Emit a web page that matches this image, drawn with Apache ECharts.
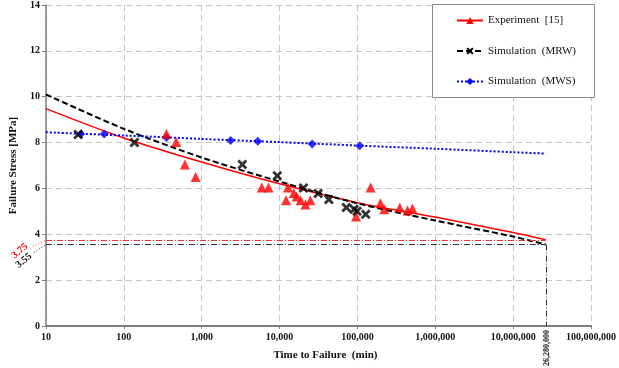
<!DOCTYPE html>
<html><head><meta charset="utf-8">
<script src="https://cdn.jsdelivr.net/npm/echarts@6/dist/echarts.min.js"></script>
<style>html,body{margin:0;padding:0;background:#fff}#c{width:619px;height:368px}</style>
</head><body><div id="c"></div>
<script>
// ---- data ----
const xTicks = [10, 100, 1000, 10000, 100000, 1000000, 10000000, 100000000];
const yTicks = [0, 2, 4, 6, 8, 10, 12, 14];
const legendNames = ['Experiment  [15]', 'Simulation  (MRW)', 'Simulation  (MWS)'];

const expTime   = [353, 471, 610, 837, 5910, 7230, 12850, 12130, 15270, 16640, 18660, 21550, 24880, 96100, 147900, 197200, 221300, 350000, 440600, 509000];
const expStress = [8.39, 8.02, 7.04, 6.50, 6.04, 6.04, 6.04, 5.48, 5.80, 5.65, 5.48, 5.30, 5.48, 4.78, 6.04, 5.35, 5.09, 5.17, 5.04, 5.13];

const mrwTime   = [26, 137, 3330, 9360, 20300, 31300, 43000, 72100, 90800, 98900, 128000];
const mrwStress = [8.35, 8.00, 7.04, 6.55, 6.02, 5.78, 5.52, 5.17, 5.09, 5.00, 4.87];

const mwsTime   = [28, 56, 353, 2360, 5250, 26300, 107000];
const mwsStress = [8.37, 8.37, 8.22, 8.09, 8.06, 7.94, 7.86];

const fitTime = [10, 100, 1000, 10000, 100000, 1000000, 10000000, 26280000];
const expFit  = [9.48, 8.20, 7.15, 6.20, 5.38, 4.75, 4.08, 3.76];
const mrwFit  = [10.10, 8.60, 7.35, 6.30, 5.35, 4.60, 3.90, 3.55];
const mwsFit  = [8.45, 8.31, 8.16, 8.02, 7.87, 7.73, 7.58, 7.52];

const limitTime = 26280000;
const limitExp = 3.75;
const limitMrw = 3.55;
const limitLabels = ['3.75', '3.55', '26,280,000'];

// ---- chart ----
const zip = (a, b) => a.map((v, i) => [v, b[i]]);
const FONT = 'Liberation Serif';
const crossPath = 'path://M0,2 L2,0 L5,3 L8,0 L10,2 L7,5 L10,8 L8,10 L5,7 L2,10 L0,8 L3,5 Z';

const chart = echarts.init(document.getElementById('c'), null, {renderer: 'canvas'});
const option = {
  animation: false,
  backgroundColor: '#fff',
  grid: {left: 33, right: 25, top: 4, bottom: 42},
  xAxis: {
    type: 'log', logBase: 10, min: xTicks[0], max: xTicks[xTicks.length - 1],
    name: 'Time to Failure  (min)', nameLocation: 'middle', nameGap: 24,
    nameTextStyle: {fontFamily: FONT, fontWeight: 'bold', fontSize: 11, color: '#111', padding: [0, 0, 0, 14]},
    axisLine: {lineStyle: {color: '#7f7f7f', width: 2}},
    axisTick: {show: true, length: 3, lineStyle: {color: '#7f7f7f'}},
    minorTick: {show: false},
    axisLabel: {fontFamily: FONT, fontWeight: 'bold', fontSize: 10, color: '#111', margin: 6,
      formatter: v => Math.round(v).toLocaleString('en-US')},
    splitLine: {show: true, lineStyle: {color: '#c4c4c4', type: [6, 4], width: 1}}
  },
  yAxis: {
    type: 'value', min: yTicks[0], max: yTicks[yTicks.length - 1], interval: 2,
    name: 'Failure Stress [MPa]', nameLocation: 'middle', nameGap: 20,
    nameTextStyle: {fontFamily: FONT, fontWeight: 'bold', fontSize: 11, color: '#111'},
    axisLine: {show: true, lineStyle: {color: '#7f7f7f', width: 1.5}},
    axisTick: {show: true, length: 4, lineStyle: {color: '#7f7f7f'}},
    axisLabel: {fontFamily: FONT, fontWeight: 'bold', fontSize: 10, color: '#111', margin: 6},
    splitLine: {show: true, lineStyle: {color: '#c4c4c4', type: [6, 4], width: 1}}
  },
  legend: {
    data: legendNames, orient: 'vertical', left: 456, top: 15, itemGap: 19.5,
    itemWidth: 26, itemHeight: 9, itemGap: 19.5, z: 30, padding: 0,
    textStyle: {fontFamily: FONT, fontSize: 11, color: '#111'},
    selectedMode: false
  },
  graphic: [],
  series: [
    {name: legendNames[0], type: 'line', data: zip(fitTime, expFit), smooth: 0.3,
      symbol: 'triangle', showSymbol: false, symbolSize: 8,
      lineStyle: {color: '#ff0000', width: 1.5}, itemStyle: {color: '#ff0000'}, z: 3},
    {name: legendNames[1], type: 'line', data: zip(fitTime, mrwFit), smooth: 0.3,
      symbol: crossPath, showSymbol: false, symbolSize: 8,
      lineStyle: {color: '#000', width: 2, type: [6, 3]}, itemStyle: {color: '#000'}, z: 3},
    {name: legendNames[2], type: 'line', data: zip(fitTime, mwsFit), smooth: 0.3,
      symbol: 'diamond', showSymbol: false, symbolSize: 8,
      lineStyle: {color: '#0000ff', width: 2, type: [2, 2]}, itemStyle: {color: '#0000ff'}, z: 3},
    {type: 'scatter', data: zip(expTime, expStress), symbol: 'triangle', symbolSize: 10,
      itemStyle: {color: '#ff0000'}, z: 5},
    {type: 'scatter', data: zip(mrwTime, mrwStress), symbol: crossPath, symbolSize: 10,
      itemStyle: {color: '#000'}, z: 6},
    {type: 'scatter', data: zip(mwsTime, mwsStress), symbol: 'diamond', symbolSize: 9,
      itemStyle: {color: '#0000ff'}, z: 4},
    {type: 'line', data: [], silent: true,
      markLine: {symbol: 'none', silent: true, label: {show: false},
        data: [
          [{coord: [xTicks[0], limitExp], lineStyle: {color: '#ff3030', width: 1, type: [6, 2, 1, 2]}}, {coord: [limitTime, limitExp]}],
          [{coord: [xTicks[0], limitMrw], lineStyle: {color: '#333', width: 1, type: [6, 2, 1, 2]}}, {coord: [limitTime, limitMrw]}],
          [{coord: [limitTime, limitMrw], lineStyle: {color: '#333', width: 1, type: [6, 2, 1, 2]}}, {coord: [limitTime, yTicks[0]]}]
        ]}, z: 2}
  ]
};
chart.setOption(option);

// annotations placed relative to converted coordinates
const pE = chart.convertToPixel({gridIndex: 0}, [xTicks[0], limitExp]);
const pM = chart.convertToPixel({gridIndex: 0}, [xTicks[0], limitMrw]);
const pT = chart.convertToPixel({gridIndex: 0}, [limitTime, yTicks[0]]);
chart.setOption({
  graphic: [
    {type: 'rect', left: 432, top: 4, shape: {width: 162, height: 93}, z: 10,
      style: {fill: '#fff', stroke: '#8c8c8c', lineWidth: 1}},
    {type: 'line', shape: {x1: pE[0] - 13, y1: pE[1] + 6, x2: pE[0], y2: pE[1]},
      style: {stroke: '#ff4040', lineWidth: 1, lineDash: [1, 2]}},
    {type: 'line', shape: {x1: pM[0] - 12, y1: pM[1] + 8, x2: pM[0], y2: pM[1]},
      style: {stroke: '#333', lineWidth: 1, lineDash: [1, 2]}},
    {type: 'text', x: pE[0] - 26, y: pE[1] + 11, rotation: 0.7,
      style: {text: limitLabels[0], fill: '#ff0000', font: 'bold 10px "Liberation Serif"', align: 'center', verticalAlign: 'middle'}},
    {type: 'text', x: pM[0] - 22, y: pM[1] + 16, rotation: 0.7,
      style: {text: limitLabels[1], fill: '#111', font: 'bold 10px "Liberation Serif"', align: 'center', verticalAlign: 'middle'}},
    {type: 'text', x: pT[0] + 1, y: pT[1] + 22, rotation: Math.PI / 2,
      style: {text: limitLabels[2], fill: '#111', font: 'bold 8px "Liberation Serif"', align: 'center', verticalAlign: 'middle'}}
  ]
});
</script></body></html>
